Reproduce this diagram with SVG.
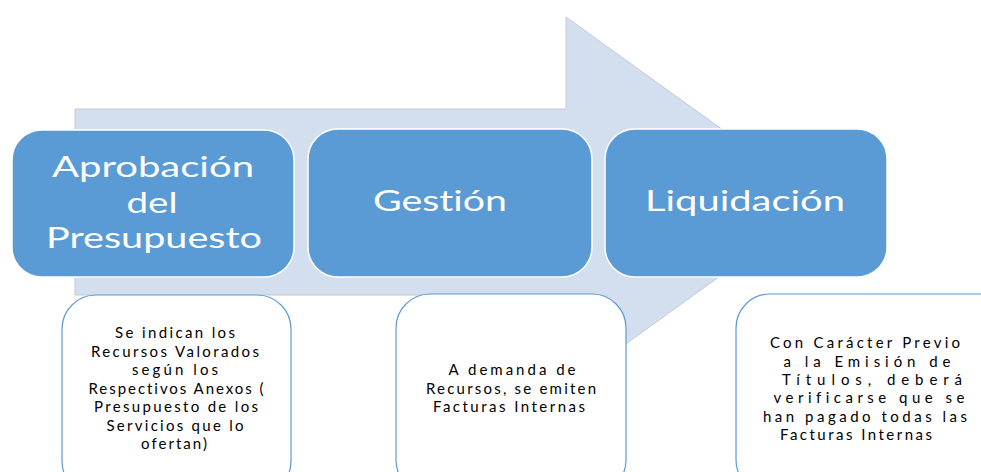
<svg xmlns="http://www.w3.org/2000/svg" width="981" height="472" viewBox="0 0 981 472">
<style>
.arrow{fill:#D3DEEF;stroke:#C2CAD6;stroke-width:1}
.stage{fill:#5B9BD5;stroke:#FFFFFF;stroke-width:1.5}
.stage-t{font-family:Lato,"Open Sans",sans-serif;font-size:29px;fill:#FFFFFF;text-anchor:middle;font-variant-ligatures:none;font-feature-settings:"liga" 0,"clig" 0}
.note{fill:#FFFFFF;stroke:#5B9BD5;stroke-width:1.2}
.note-t{font-family:Lato,"Open Sans",sans-serif;font-size:15px;fill:#000000;text-anchor:middle;font-variant-ligatures:none;font-feature-settings:"liga" 0,"clig" 0}
</style>
<rect width="981" height="472" fill="#FFFFFF"/>
<g id="arrow">
<polygon class="arrow" points="75,109 566,109 566,17 823,202 566,387 566,295 75,295"/>
</g>
<g id="connectors"></g>
<g id="stage-aprobacion">
<rect class="stage" x="12" y="130" width="282" height="147" rx="30"/>
<text class="stage-t" x="153" y="177" textLength="202" lengthAdjust="spacingAndGlyphs">Aprobación</text>
<text class="stage-t" x="152" y="213" textLength="51" lengthAdjust="spacingAndGlyphs">del</text>
<text class="stage-t" x="154" y="248" textLength="216" lengthAdjust="spacingAndGlyphs">Presupuesto</text>
</g>
<g id="stage-gestion">
<rect class="stage" x="308" y="129" width="284" height="148" rx="30"/>
<text class="stage-t" x="440" y="211" textLength="134" lengthAdjust="spacingAndGlyphs">Gestión</text>
</g>
<g id="stage-liquidacion">
<rect class="stage" x="605" y="129" width="282" height="148" rx="30"/>
<text class="stage-t" x="745" y="211" textLength="200" lengthAdjust="spacingAndGlyphs">Liquidación</text>
</g>
<g id="note-aprobacion">
<rect class="note" x="62" y="295" width="229" height="200" rx="34"/>
<text class="note-t" x="175" y="338" textLength="120" lengthAdjust="spacing">Se indican los</text>
<text class="note-t" x="175" y="357" textLength="168" lengthAdjust="spacing">Recursos Valorados</text>
<text class="note-t" x="175" y="375" textLength="86" lengthAdjust="spacing">según los</text>
<text class="note-t" x="176" y="394" textLength="175" lengthAdjust="spacing">Respectivos Anexos (</text>
<text class="note-t" x="176" y="412" textLength="164" lengthAdjust="spacing">Presupuesto de los</text>
<text class="note-t" x="175" y="431" textLength="137" lengthAdjust="spacing">Servicios que lo</text>
<text class="note-t" x="174" y="449" textLength="66" lengthAdjust="spacing">ofertan)</text>
</g>
<g id="note-gestion">
<rect class="note" x="396" y="294" width="230" height="200" rx="34"/>
<text class="note-t" x="512" y="375" textLength="127" lengthAdjust="spacing">A demanda de</text>
<text class="note-t" x="511" y="394" textLength="170" lengthAdjust="spacing">Recursos, se emiten</text>
<text class="note-t" x="509" y="412" textLength="152" lengthAdjust="spacing">Facturas Internas</text>
</g>
<g id="note-liquidacion">
<rect class="note" x="736" y="294" width="280" height="200" rx="34"/>
<text class="note-t" x="865" y="348" textLength="190" lengthAdjust="spacing">Con Carácter Previo</text>
<text class="note-t" x="867" y="367" textLength="167" lengthAdjust="spacing">a la Emisión de</text>
<text class="note-t" x="872" y="385" textLength="180" lengthAdjust="spacing">Títulos, deberá</text>
<text class="note-t" x="869" y="403" textLength="191" lengthAdjust="spacing">verificarse que se</text>
<text class="note-t" x="865" y="422" textLength="204" lengthAdjust="spacing">han pagado todas las</text>
<text class="note-t" x="856" y="440" textLength="152" lengthAdjust="spacing">Facturas Internas</text>
</g>
</svg>
